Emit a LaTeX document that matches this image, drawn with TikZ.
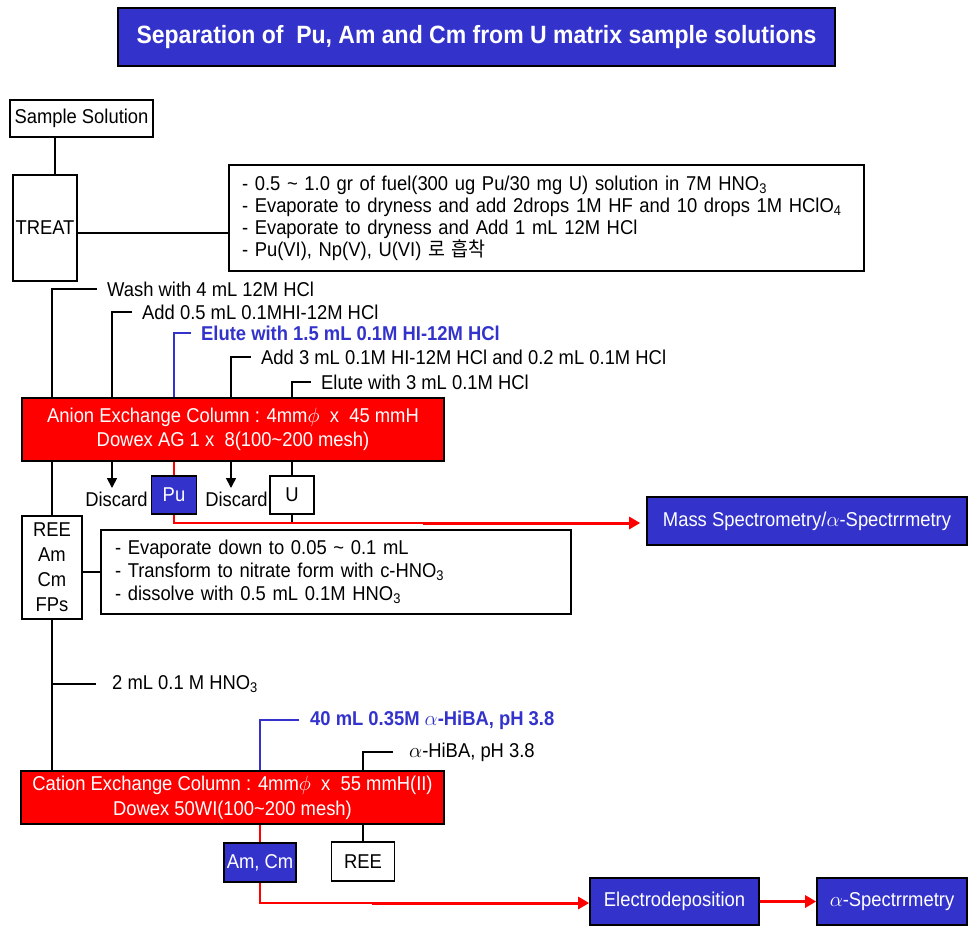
\documentclass[tikz,border=0pt]{standalone}
\usepackage{fontspec}
\setmainfont{Liberation Sans}[FakeStretch=0.92]
\newfontfamily\kr{Noto Sans CJK KR}[FakeStretch=0.92]
\usetikzlibrary{arrows.meta}
\definecolor{bblue}{RGB}{51,51,204}
\definecolor{rred}{RGB}{255,0,0}
\begin{document}
\begin{tikzpicture}[x=1pt,y=-1pt, font=\fontsize{20}{22}\selectfont,
 box/.style={draw=black, line width=1.6pt, inner sep=0pt, align=center},
 bluebox/.style={box, fill=bblue, text=white},
 redbox/.style={box, fill=rred, text=white},
 lbl/.style={anchor=west, inner xsep=10pt, inner ysep=0pt},
 bluelbl/.style={lbl, text=bblue, font=\fontsize{20}{22}\selectfont\bfseries},
 conn/.style={line width=1.6pt, draw=black},
 bconn/.style={line width=1.4pt, draw=bblue},
 rthin/.style={line width=1.5pt, draw=rred},
 rarrow/.style={line width=3pt, draw=rred, fill=rred, -{Triangle[length=11pt,width=12pt]}},
 darrow/.style={line width=1.6pt, -{Triangle[length=10pt,width=10pt]}},
]
\useasboundingbox (0,0) rectangle (970,927);
% helper x / y positions
\coordinate (x52) at (52,0);
\coordinate (x55) at (55,0);
\coordinate (x112) at (112,0);
\coordinate (x231) at (231,0);
\coordinate (h1) at (0,233);
\coordinate (t1) at (112,488);
\coordinate (t2) at (231,488);
\coordinate (r1) at (423,523);
\coordinate (r2) at (372,903);

% title
\node[bluebox, minimum width=717pt, minimum height=58pt, font=\fontsize{25}{28}\selectfont\bfseries] (title) at (476.5,37) {Separation of\ \ Pu, Am and Cm from U matrix sample solutions};

% boxes
\node[box, minimum width=143pt, minimum height=37pt] (sample) at (81.5,118.5) {Sample Solution};
\node[box, minimum width=64pt, minimum height=106pt] (treat) at (45,228) {TREAT};
\node[box, minimum width=635pt, minimum height=106pt, text width=609pt, align=left] (note1) at (546.5,218)
 {- 0.5 \textasciitilde\ 1.0 gr of fuel(300 ug Pu/30 mg U) solution in 7M HNO\textsubscript{3}\\
  - Evaporate to dryness and add 2drops 1M HF and 10 drops 1M HClO\textsubscript{4}\\
  - Evaporate to dryness and Add 1 mL 12M HCl\\
  - Pu(VI), Np(V), U(VI) {\kr 로 흡착}};

\node[redbox, minimum width=422pt, minimum height=63pt, font=\fontsize{20}{24}\selectfont] (anion) at (233,429.5)
 {Anion Exchange Column : 4mm$\phi$\ \ x\ \ 45 mmH\\Dowex AG 1 x\ \ 8(100\textasciitilde200 mesh)};

\node[bluebox, minimum width=45pt, minimum height=38pt] (pu) at (174,495) {Pu};
\node[box, minimum width=44pt, minimum height=38pt] (u) at (292,495) {U};
\node (d1) at (116.5,499) {Discard};
\node (d2) at (236.5,499) {Discard};

\node[box, minimum width=60pt, minimum height=103pt, font=\fontsize{20}{25}\selectfont] (ree) at (52,567.5) {REE\\Am\\Cm\\FPs};
\node[box, minimum width=470pt, minimum height=84pt, text width=442pt, align=left, font=\fontsize{20}{23}\selectfont] (note2) at (336,572)
 {- Evaporate down to 0.05 \textasciitilde\ 0.1 mL\\
  - Transform to nitrate form with c-HNO\textsubscript{3}\\
  - dissolve with 0.5 mL 0.1M HNO\textsubscript{3}};

\node[bluebox, minimum width=320pt, minimum height=48pt] (ms) at (807,521) {Mass Spectrometry/$\alpha$-Spectrrmetry};

\node[redbox, minimum width=423pt, minimum height=53pt, font=\fontsize{20}{25}\selectfont] (cation) at (232.5,797.5)
 {Cation Exchange Column : 4mm$\phi$\ \ x\ \ 55 mmH(II)\\Dowex 50WI(100\textasciitilde200 mesh)};

\node[bluebox, minimum width=72pt, minimum height=39pt] (amcm) at (260,862.5) {Am, Cm};
\node[box, minimum width=63pt, minimum height=39pt] (ree2) at (363,861.5) {REE};
\node[bluebox, minimum width=169pt, minimum height=47pt] (el) at (674.5,901.5) {Electrodeposition};
\node[bluebox, minimum width=150pt, minimum height=47pt] (as) at (892,901.5) {$\alpha$-Spectrrmetry};

% labels
\node[lbl] (l1) at (97,289) {Wash with 4 mL 12M HCl};
\node[lbl] (l2) at (132,312) {Add 0.5 mL 0.1MHI-12M HCl};
\node[bluelbl] (l3) at (191,333) {Elute with 1.5 mL 0.1M HI-12M HCl};
\node[lbl] (l4) at (251,357) {Add 3 mL 0.1M HI-12M HCl and 0.2 mL 0.1M HCl};
\node[lbl] (l5) at (311,382) {Elute with 3 mL 0.1M HCl};
\node[lbl, inner xsep=16pt] (l6) at (96,684) {2 mL 0.1 M HNO\textsubscript{3}};
\node[bluelbl, inner xsep=11pt] (l7) at (299,720) {40 mL 0.35M $\alpha$-HiBA, pH 3.8};
\node[lbl, inner xsep=16pt] (l8) at (393,752) {$\alpha$-HiBA, pH 3.8};

% connectors
\draw[conn] (sample.south -| x55) -- (treat.north -| x55);
\draw[conn] (treat.east |- h1) -- (note1.west |- h1);
\draw[conn] (l1.west) -| (anion.north -| x52);
\draw[conn] (l2.west) -| (anion.north -| x112);
\draw[bconn] (l3.west) -| (anion.north -| pu);
\draw[conn] (l4.west) -| (anion.north -| x231);
\draw[conn] (l5.west) -| (anion.north -| u);

\draw[conn] (anion.south -| ree.north) -- (ree.north);
\draw[darrow] (anion.south -| t1) -- (t1);
\draw[rthin] (anion.south -| pu) -- (pu.north);
\draw[darrow] (anion.south -| t2) -- (t2);
\draw[conn] (anion.south -| u) -- (u.north);
\draw[conn] (u.south) -- (u.south |- r1);
\draw[rthin] (pu.south) |- (r1);
\draw[rarrow, shorten >=6pt] (r1) -- (r1 -| ms.west);

\draw[conn] (ree.east |- note2.west) -- (note2.west);
\draw[conn] (ree.south) -- (cation.north -| ree.south);
\draw[conn] (l6.west) -- (l6.west -| ree.south);
\draw[bconn] (l7.west) -| (cation.north -| amcm);
\draw[conn] (l8.west) -| (cation.north -| ree2);
\draw[rthin] (cation.south -| amcm) -- (amcm.north);
\draw[conn] (cation.south -| ree2) -- (ree2.north);
\draw[rthin] (amcm.south) |- (r2);
\draw[rarrow] (r2) -- (r2 -| el.west);
\draw[rarrow] (el.east) -- (as.west);
\end{tikzpicture}
\end{document}
